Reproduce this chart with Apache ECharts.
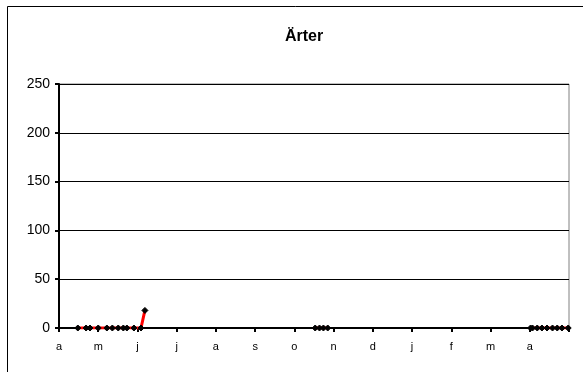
<!DOCTYPE html>
<html><head><meta charset="utf-8">
<script src="https://cdn.jsdelivr.net/npm/echarts@6/dist/echarts.min.js"></script>
<style>html,body{margin:0;padding:0;background:#fff}#c{width:583px;height:372px}</style>
</head><body><div id="c"></div>
<script>
// Month tick labels (axis runs in month units from April to April)
const monthLabels = ['a','m','j','j','a','s','o','n','d','j','f','m','a',''];
// Cluster 1 (spring): x in months since start, y values
const c1x = [0.48,0.69,0.79,1.00,1.22,1.36,1.51,1.64,1.73,1.91,2.09,2.19];
const c1y = [0,0,0,0,0,0,0,0,0,0,0,18];
// Cluster 2 (autumn)
const c2x = [6.53,6.64,6.74,6.85];
const c2y = [0,0,0,0];
// Cluster 3 (next spring)
const c3x = [12.02,12.07,12.19,12.31,12.44,12.58,12.70,12.82,12.98];
const c3y = [0,0,0,0,0,0,0,0,0];

function pairs(xs, ys){ return xs.map((x,i)=>[x, ys[i]]); }
const data = [].concat(pairs(c1x,c1y), [[4,'-']], pairs(c2x,c2y), [[9,'-']], pairs(c3x,c3y));

const chart = echarts.init(document.getElementById('c'), null, {renderer:'canvas'});
chart.setOption({
  animation:false,
  backgroundColor:'#fff',
  title:{text:'Ärter', left:299, top:24, textAlign:'center',
    textStyle:{fontFamily:'Liberation Sans, Arial, sans-serif', fontSize:16, fontWeight:'bold', color:'#000'}},
  graphic:[{type:'rect', shape:{x:7.5,y:6.5,width:620,height:420}, style:{fill:'none', stroke:'#000', lineWidth:1}, silent:true}],
  grid:{left:59, right:14, top:84, bottom:44, show:true, borderColor:'#808080', borderWidth:1, backgroundColor:'transparent'},
  xAxis:{type:'value', min:0, max:13, interval:1,
    axisLine:{show:true, onZero:false, lineStyle:{color:'#000', width:2}},
    axisTick:{show:true, length:4, lineStyle:{color:'#000', width:2}},
    splitLine:{show:false},
    axisLabel:{formatter:v=>monthLabels[Math.round(v)]||'', color:'#000', fontSize:11, margin:13,
      fontFamily:'Liberation Sans, Arial, sans-serif', showMaxLabel:true}},
  yAxis:{type:'value', min:0, max:250, interval:50,
    axisLine:{show:true, lineStyle:{color:'#000', width:2}},
    axisTick:{show:true, length:4, lineStyle:{color:'#000', width:2}},
    splitLine:{show:true, lineStyle:{color:'#000', width:1}},
    axisLabel:{color:'#000', fontSize:14, margin:9, fontFamily:'Liberation Sans, Arial, sans-serif'}},
  series:[{type:'line', data:data, connectNulls:false,
    lineStyle:{color:'#ff0000', width:3},
    symbol:'diamond', symbolSize:6, showAllSymbol:true,
    itemStyle:{color:'#000', borderColor:'#000'}, z:5}]
});
</script></body></html>
